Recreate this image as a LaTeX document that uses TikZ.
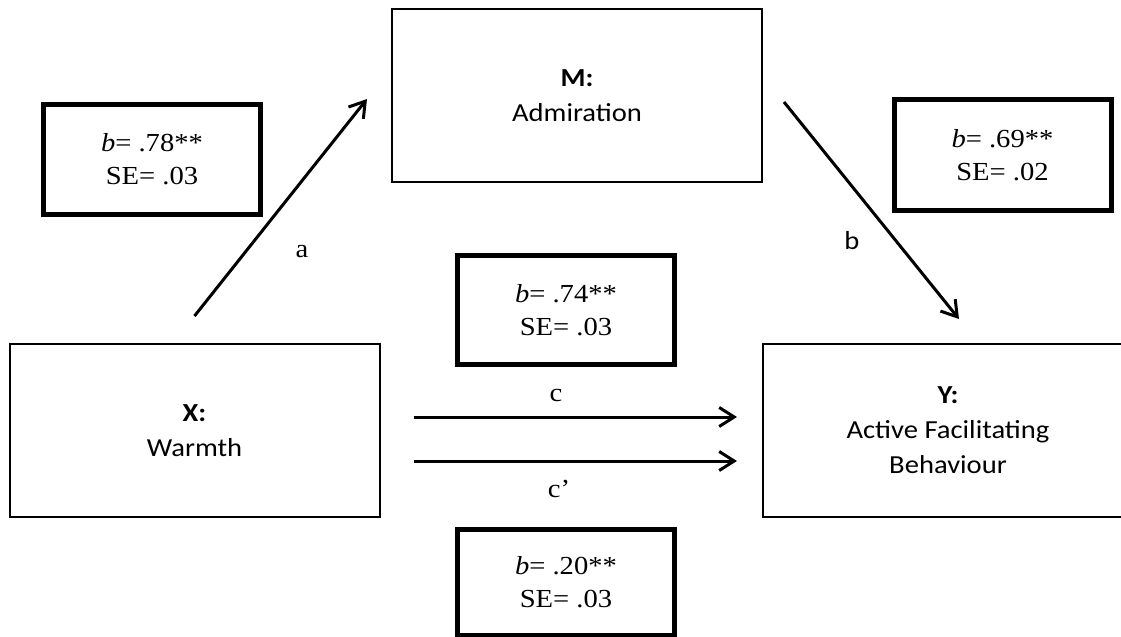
\documentclass[tikz,border=0pt]{standalone}
\usepackage{fontspec}
\setmainfont{Liberation Serif}[FakeStretch=1.1]
\newfontfamily\calibri{Carlito}[FakeStretch=1.1]
\usetikzlibrary{arrows.meta,calc}
\begin{document}
\begin{tikzpicture}[x=0.5pt,y=-0.5pt,
  varbox/.style={draw, line width=1pt, minimum width=185pt, minimum height=86.5pt,
    align=center, inner sep=0pt, font=\calibri\fontsize{13}{17.5}\selectfont},
  coefbox/.style={draw, line width=2.5pt, minimum width=108.5pt, minimum height=55pt,
    align=center, inner sep=0pt, font=\fontsize{13}{16.5}\selectfont},
  arr/.style={line width=1.5pt, -{Straight Barb[length=7.5pt,width=9.5pt]}},
  lbl/.style={anchor=base, inner sep=0pt, font=\fontsize{13}{16}\selectfont},
  slbl/.style={anchor=base, inner sep=0pt, font=\calibri\fontsize{13}{16}\selectfont}
]
\useasboundingbox (0,0) rectangle (1121,637);
\clip (0,0) rectangle (1121,637);

% variable boxes
\node[varbox] (M) at (577,95.5) {\textbf{M:}\\Admiration};
\node[varbox] (X) at (194.5,430.5) {\textbf{X:}\\Warmth};
\node[varbox] (Y) at (948,430.5) {\textbf{Y:}\\Active Facilitating\\Behaviour};

% coefficient boxes
\node[coefbox] (ca) at (152,159.5) {\textit{b}= .78**\\SE= .03};
\node[coefbox, minimum height=55.5pt] (cb) at (1002.5,155) {\textit{b}= .69**\\SE= .02};
\node[coefbox, minimum height=54.5pt] (cc) at (566,310) {\textit{b}= .74**\\SE= .03};
\node[coefbox, minimum height=53pt] (cd) at (566,582) {\textit{b}= .20**\\SE= .03};

% arrows
\draw[arr] ($(X.north)+(0,-27)$) -- ($(M.west)+(-24,3.5)$);
\draw[arr] ($(M.east)+(21,6.5)$) -- ($(Y.north)+(11,-24)$);
\draw[arr] ($(X.east)+(33,-13.5)$) -- ($(Y.west)+(-25,-13.5)$);
\draw[arr] ($(X.east)+(33,30.5)$) -- ($(Y.west)+(-25,30.5)$);

% path labels
\node[lbl] (la) at (302,257) {a};
\node[slbl] (lb) at (852,249) {b};
\node[lbl] (lc) at (556,401) {c};
\node[lbl] (lcp) at (559,497) {c’};
\end{tikzpicture}
\end{document}
